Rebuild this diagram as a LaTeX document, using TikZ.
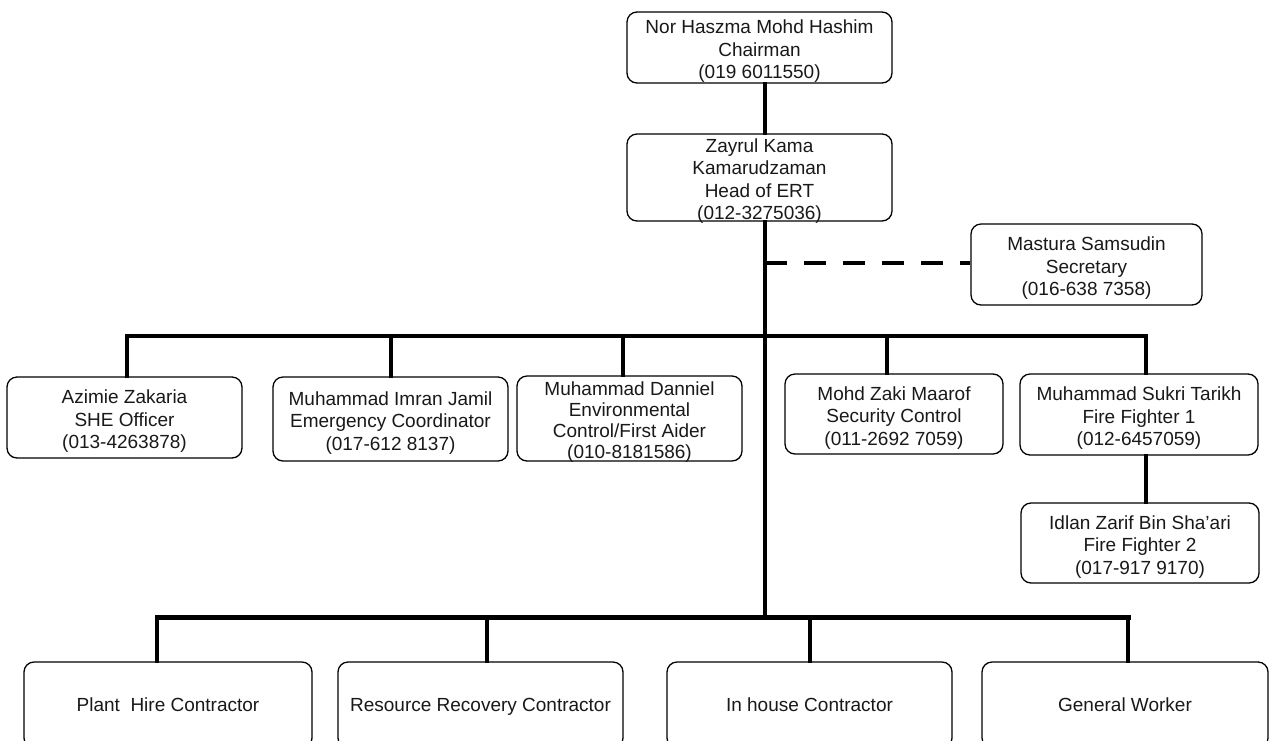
\documentclass[tikz,border=0pt]{standalone}
\usepackage{fontspec}
\setmainfont{Liberation Sans}
\newcommand\boxtext[1]{\raisebox{-8.5pt}[0pt][0pt]{\begin{tabular}{@{}c@{}}#1\end{tabular}}}
\begin{document}
\begin{tikzpicture}[x=1pt,y=-1pt,
  box/.style={draw, rounded corners=10, line width=1.3, inner sep=0pt,
    font=\fontsize{19}{22.5}\selectfont, text=black!90},
  onebox/.style={draw, rounded corners=10, line width=1.3, inner sep=0pt,
    font=\fontsize{19}{22.5}\selectfont, text=black!90,
    text height=16, text depth=3, minimum height=86},
  conn/.style={line width=4, line cap=rect},
  dashconn/.style={line width=4, dash pattern=on 22 off 17}]
\useasboundingbox (0,0) rectangle (1273,740);
\clip (0,0) rectangle (1273,740);
\fill[white] (0,0) rectangle (1273,740);
% nodes
\node[box, minimum width=265, minimum height=71] (chair) at (759.5,47.5) {\boxtext{Nor Haszma Mohd Hashim\\Chairman\\(019 6011550)}};
\node[box, minimum width=265, minimum height=87] (head) at (759.5,177.5) {\boxtext{Zayrul Kama\\Kamarudzaman\\Head of ERT\\(012-3275036)}};
\node[box, minimum width=231, minimum height=81] (sec) at (1086.5,264.5) {\boxtext{Mastura Samsudin\\Secretary\\(016-638 7358)}};
\node[box, minimum width=235, minimum height=81] (azimie) at (124.5,417.5) {\boxtext{Azimie Zakaria\\SHE Officer\\(013-4263878)}};
\node[box, minimum width=235, minimum height=84] (imran) at (390.5,419) {\boxtext{Muhammad Imran Jamil\\Emergency Coordinator\\(017-612 8137)}};
\node[box, minimum width=225, minimum height=85, font=\fontsize{19}{21}\selectfont] (danniel) at (629.5,418.5) {\boxtext{Muhammad Danniel\\Environmental\\Control/First Aider\\(010-8181586)}};
\node[box, minimum width=218, minimum height=80] (zaki) at (894,414) {\boxtext{Mohd Zaki Maarof\\Security Control\\(011-2692 7059)}};
\node[box, minimum width=238, minimum height=81] (sukri) at (1139,414.5) {\boxtext{Muhammad Sukri Tarikh\\Fire Fighter 1\\(012-6457059)}};
\node[box, minimum width=238, minimum height=80] (idlan) at (1140,543) {\boxtext{Idlan Zarif Bin Sha'ari\\Fire Fighter 2\\(017-917 9170)}};
\node[onebox, minimum width=288] (plant) at (168,705) {Plant\ \ Hire Contractor};
\node[onebox, minimum width=285] (resource) at (480.5,705) {Resource Recovery Contractor};
\node[onebox, minimum width=285] (inhouse) at (809.5,705) {In house Contractor};
\node[onebox, minimum width=286] (general) at (1125,705) {General Worker};
% junction coordinates
\coordinate (tx) at (765,0);
\coordinate (jsec) at (765,263);
\coordinate (jbot) at (765,617);
\coordinate (b1) at (127,336);
\coordinate (b2) at (391,336);
\coordinate (b3) at (623,336);
\coordinate (b4) at (887,336);
\coordinate (b5) at (1146,336);
\coordinate (c1) at (157,617);
\coordinate (c2) at (487,617);
\coordinate (c3) at (810,617);
\coordinate (c4) at (1128,617);
% connectors
\draw[conn] (chair.south -| tx) -- (head.north -| tx);
\draw[conn] (head.south -| tx) -- (jbot);
\draw[dashconn] (jsec) -- (sec.west |- jsec);
\draw[conn] (b1) -- (b5);
\draw[conn] (b1) -- (b1 |- azimie.north);
\draw[conn] (b2) -- (b2 |- imran.north);
\draw[conn] (b3) -- (b3 |- danniel.north);
\draw[conn] (b4) -- (b4 |- zaki.north);
\draw[conn] (b5) -- (b5 |- sukri.north);
\draw[conn] (sukri.south -| b5) -- (idlan.north -| b5);
\draw[line width=5, line cap=rect] (c1) -- (c4);
\draw[conn] (c1) -- (c1 |- plant.north);
\draw[conn] (c2) -- (c2 |- resource.north);
\draw[conn] (c3) -- (c3 |- inhouse.north);
\draw[conn] (c4) -- (c4 |- general.north);
\end{tikzpicture}
\end{document}
